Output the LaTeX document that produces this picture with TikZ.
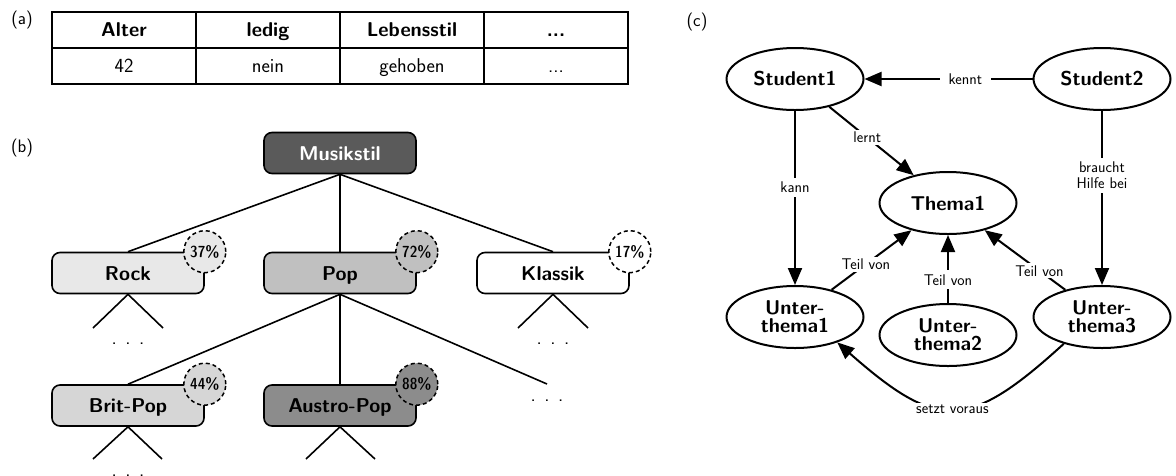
\documentclass[tikz,border=0pt]{standalone}
\usetikzlibrary{arrows.meta,shapes.geometric}
\definecolor{rootgray}{HTML}{5A5A5A}
\definecolor{rockgray}{HTML}{E8E8E8}
\definecolor{popgray}{HTML}{C0C0C0}
\definecolor{britgray}{HTML}{D6D6D6}
\definecolor{austrogray}{HTML}{8C8C8C}
\begin{document}
\begin{tikzpicture}[x=1pt,y=-1pt,
  lab/.style={font=\sffamily\fontsize{18}{20}\selectfont},
  cell/.style={draw, line width=1.8pt, minimum width=144pt, minimum height=36pt,
    inner sep=0pt, text height=13.5pt, text depth=0pt,
    font=\sffamily\fontsize{20}{22}\selectfont},
  headcell/.style={cell, font=\sffamily\bfseries\fontsize{20}{22}\selectfont},
  genre/.style={draw, line width=1.6pt, rounded corners=8pt, minimum width=152pt,
    minimum height=41pt, inner sep=0pt, text height=14pt, text depth=0pt,
    font=\sffamily\bfseries\fontsize{20}{24}\selectfont},
  share/.style={circle, draw, dash pattern=on 4pt off 3pt, line width=1.5pt,
    minimum size=42pt, inner sep=0pt,
    font=\sffamily\fontseries{sbc}\fontsize{16}{18}\selectfont},
  branch/.style={line width=1.6pt},
  more/.style={anchor=base, inner sep=0pt, font=\sffamily\fontsize{20}{24}\selectfont},
  concept/.style={ellipse, draw, line width=2pt, minimum width=137pt, minimum height=62pt,
    inner sep=1pt, align=center, font=\sffamily\bfseries\fontsize{20}{18}\selectfont},
  rel/.style={line width=2pt, -{Triangle[length=17pt,width=14pt]}},
  edgelab/.style={fill=white, inner xsep=9pt, inner ysep=4pt, align=center,
    font=\sffamily\fontsize{15.5}{16.5}\selectfont},
]
\useasboundingbox (0,0) rectangle (1176,475);

% panel labels
\node[lab] (la) at (22,20) {(a)};
\node[lab] (lb) at (22,148) {(b)};
\node[lab] (lc) at (697,22) {(c)};

% (a) attribute table
\node[headcell] (h1) at (124,30) {Alter};
\node[headcell] (h2) at (268,30) {ledig};
\node[headcell] (h3) at (412,30) {Lebensstil};
\node[headcell] (h4) at (556,30) {...};
\node[cell] (d1) at (124,66) {42};
\node[cell] (d2) at (268,66) {nein};
\node[cell] (d3) at (412,66) {gehoben};
\node[cell] (d4) at (556,66) {...};

% (b) genre tree
\node[genre, fill=rootgray, text=white] (mus) at (340,153) {Musikstil};
\node[genre, fill=rockgray] (rock) at (128,273) {Rock};
\node[genre, fill=popgray] (pop) at (340,273) {Pop};
\node[genre, fill=white] (klass) at (553,273) {Klassik};
\node[genre, fill=britgray] (brit) at (128,405.5) {Brit-Pop};
\node[genre, fill=austrogray] (austro) at (340,405.5) {Austro-Pop};

\draw[branch] (mus.south) -- (rock.north);
\draw[branch] (mus.south) -- (pop.north);
\draw[branch] (mus.south) -- (klass.north);
\coordinate (popmore) at (547,384);
\draw[branch] (pop.south) -- (brit.north);
\draw[branch] (pop.south) -- (austro.north);
\draw[branch] (pop.south) -- (popmore);
\node[more] (popdots) at (547,401) {.\hskip8.5pt.\hskip8.5pt.};

\coordinate (rockl) at (93,328);
\coordinate (rockr) at (163,328);
\draw[branch] (rockl) -- (rock.south) -- (rockr);
\node[more] (rockdots) at (128,344.5) {.\hskip8.5pt.\hskip8.5pt.};
\coordinate (klassl) at (518,328);
\coordinate (klassr) at (588,328);
\draw[branch] (klassl) -- (klass.south) -- (klassr);
\node[more] (klassdots) at (553,344.5) {.\hskip8.5pt.\hskip8.5pt.};
\coordinate (britl) at (93,459);
\coordinate (britr) at (162,459);
\draw[branch] (britl) -- (brit.south) -- (britr);
\node[more] (britdots) at (128,476.5) {.\hskip8.5pt.\hskip8.5pt.};
\coordinate (austrol) at (306,459);
\coordinate (austror) at (375,459);
\draw[branch] (austrol) -- (austro.south) -- (austror);

\node[share, fill=rockgray] (p37) at (rock.north east) {37\%};
\node[share, fill=popgray] (p72) at (pop.north east) {72\%};
\node[share, fill=white] (p17) at (klass.north east) {17\%};
\node[share, fill=britgray] (p44) at (brit.north east) {44\%};
\node[share, fill=austrogray] (p88) at (austro.north east) {88\%};

% (c) concept graph
\node[concept] (s1) at (795,79) {Student1};
\node[concept] (s2) at (1102,79) {Student2};
\node[concept] (t1) at (948,203) {Thema1};
\node[concept] (u1) at (795,317) {Unter-\\thema1};
\node[concept] (u2) at (948,335) {Unter-\\thema2};
\node[concept] (u3) at (1102,317) {Unter-\\thema3};

\draw[rel] (s2) -- node[edgelab, pos=0.4] {kennt} (s1);
\draw[rel] (s1) -- node[edgelab, pos=0.45, inner xsep=2pt, inner ysep=2pt] {lernt} (t1);
\draw[rel] (s1) -- node[edgelab, pos=0.44] {kann} (u1);
\draw[rel] (s2) -- node[edgelab, pos=0.37] {braucht\\Hilfe bei} (u3);
\draw[rel] (u1) -- node[edgelab, pos=0.43, inner xsep=2pt, inner ysep=2pt] {Teil von} (t1);
\draw[rel] (u2) -- node[edgelab, pos=0.34] {Teil von} (t1);
\draw[rel] (u3) -- node[edgelab, pos=0.32, inner xsep=2pt, inner ysep=2pt] {Teil von} (t1);
\draw[rel] (u3.215) .. controls (968,431) and (938,431) ..
  node[edgelab, pos=0.5, inner xsep=2pt, inner ysep=2pt] {setzt voraus} (u1.329);
\end{tikzpicture}
\end{document}
